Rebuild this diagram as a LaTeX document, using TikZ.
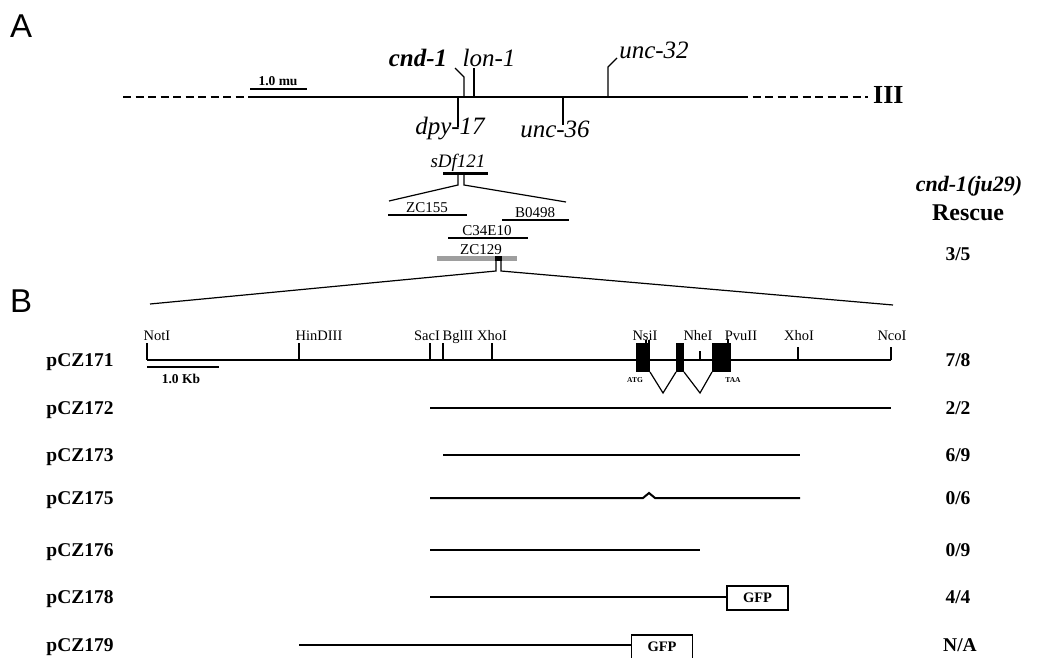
\documentclass[tikz,border=0pt]{standalone}
\usepackage{fontspec}
\setmainfont{Liberation Serif}
\newfontfamily\sansf{Liberation Sans}
\begin{document}
\begin{tikzpicture}[x=1pt,y=-1pt,
  every node/.style={inner sep=0pt, anchor=base},
  panel/.style={font=\sansf\fontsize{33}{35}\selectfont, anchor=base west},
  gene/.style={font=\fontsize{25}{28}\selectfont\itshape},
  bgene/.style={font=\fontsize{25}{28}\selectfont\bfseries\itshape},
  cosm/.style={font=\fontsize{15}{17}\selectfont},
  site/.style={font=\fontsize{14.5}{16}\selectfont},
  scalelbl/.style={font=\fontsize{13.5}{15}\selectfont\bfseries},
  tiny/.style={font=\fontsize{7.5}{8}\selectfont\bfseries},
  plab/.style={font=\fontsize{19.5}{21}\selectfont\bfseries},
  res/.style={font=\fontsize{19.5}{21}\selectfont\bfseries},
  chrom/.style={line width=1.3pt},
  dashchrom/.style={line width=1.3pt, dash pattern=on 8pt off 4.5pt},
  thin/.style={line width=1.2pt},
  construct/.style={line width=2pt},
  exon/.style={fill=black, draw=none},
  gfpbox/.style={draw, line width=1.3pt, fill=white, minimum width=61pt, minimum height=24pt, anchor=center, font=\fontsize{14.5}{16}\selectfont\bfseries}
]
\useasboundingbox (0,0) rectangle (1054,658);

% panel letters
\node[panel] (pA) at (10,38) {A};
\node[panel] (pB) at (10,312) {B};

% ---------- Panel A: chromosome III ----------
\coordinate (chL) at (123,97);
\coordinate (chA) at (250,97);
\coordinate (chB) at (740,97);
\coordinate (chR) at (868,97);
\draw[dashchrom] (chL) -- (chA);
\draw[chrom] (chA) -- (chB);
\draw[dashchrom] (chB) -- (chR);
\node[font=\fontsize{26}{28}\selectfont\bfseries, anchor=base west] (III) at (873,104) {III};

% scale bar
\coordinate (muL) at (250,89);
\coordinate (muR) at (307,89);
\draw[thin] (muL) -- (muR);
\node[scalelbl] (mu) at (278,86) {1.0 mu};

% markers
\coordinate (cndB) at (464,97);
\coordinate (cndM) at (464,77);
\coordinate (cndT) at (455,68);
\draw[thin] (cndB) -- (cndM) -- (cndT);
\coordinate (lonB) at (474,97);
\coordinate (lonT) at (474,68);
\draw[thin] (lonB) -- (lonT);
\coordinate (u32B) at (608,97);
\coordinate (u32M) at (608,67);
\coordinate (u32T) at (617,58);
\draw[thin] (u32B) -- (u32M) -- (u32T);
\coordinate (dpyB) at (458,97);
\coordinate (dpyT) at (458,127);
\draw[thin] (dpyB) -- (dpyT);
\coordinate (u36B) at (563,97);
\coordinate (u36T) at (563,125);
\draw[thin] (u36B) -- (u36T);

\node[bgene] (cnd) at (418,67) {cnd-1};
\node[gene] (lon) at (489,67) {lon-1};
\node[gene] (u32) at (654,59) {unc-32};
\node[gene] (dpy) at (450,135) {dpy-17};
\node[gene] (u36) at (555,138) {unc-36};

% deficiency and cosmids
\node[font=\fontsize{19}{21}\selectfont\itshape] (sdf) at (458,167) {sDf121};
\coordinate (sdfL) at (443,173);
\coordinate (sdfR) at (488,173);
\draw[line width=3pt] (sdfL) -- (sdfR);
\coordinate (s1) at (458,173);
\coordinate (s1b) at (458,185);
\coordinate (s2) at (464,173);
\coordinate (s2b) at (464,185);
\coordinate (fanL) at (389,201);
\coordinate (fanR) at (566,202);
\draw[thin] (s1) -- (s1b) -- (fanL);
\draw[thin] (s2) -- (s2b) -- (fanR);

\coordinate (zc155L) at (388,215);
\coordinate (zc155R) at (467,215);
\draw[thin] (zc155L) -- (zc155R);
\node[cosm] (zc155) at (427,212) {ZC155};
\coordinate (b0498L) at (502,220);
\coordinate (b0498R) at (569,220);
\draw[thin] (b0498L) -- (b0498R);
\node[cosm] (b0498) at (535,217) {B0498};
\coordinate (c34L) at (448,238);
\coordinate (c34R) at (528,238);
\draw[line width=1.6pt] (c34L) -- (c34R);
\node[cosm] (c34) at (487,235) {C34E10};
\node[cosm] (zc129) at (481,254) {ZC129};
\coordinate (zcL) at (437,258);
\coordinate (zcR) at (517,258);
\draw[line width=5pt, black!38] (zcL) -- (zcR);
\coordinate (zcgL) at (495,258);
\coordinate (zcgR) at (502,258);
\draw[line width=5pt] (zcgL) -- (zcgR);
\coordinate (z1) at (496,260);
\coordinate (z1b) at (496,271);
\coordinate (z2) at (501,260);
\coordinate (z2b) at (501,271);
\coordinate (bigL) at (150,304);
\coordinate (bigR) at (893,305);
\draw[thin] (z1) -- (z1b) -- (bigL);
\draw[thin] (z2) -- (z2b) -- (bigR);

% Rescue header
\node[font=\fontsize{22}{24}\selectfont\bfseries\itshape] (hdr1) at (969,191) {cnd-1(ju29)};
\node[font=\fontsize{24}{26}\selectfont\bfseries] (hdr2) at (968,220) {Rescue};
\node[res] (r0) at (958,260) {3/5};

% ---------- Panel B: restriction map ----------
\coordinate (mapL) at (147,360);
\coordinate (mapR) at (891,360);
\draw[construct] (mapL) -- (mapR);

\foreach \x/\t in {147/343,299/343,430/343,443/343,492/343,700/351,798/347,891/347}
  \draw[thin] (\x,\t) -- (\x,360);
\draw[thin] (646,340) -- (646,344);
\draw[thin] (649,340) -- (649,344);
\draw[thin] (728,339) -- (728,344);

\node[site] (notI) at (157,340) {NotI};
\node[site] (hind) at (319,340) {HinDIII};
\node[site] (sacI) at (427,340) {SacI};
\node[site] (bglII) at (458,340) {BglII};
\node[site] (xhoI) at (492,340) {XhoI};
\node[site] (nsiI) at (645,340) {NsiI};
\node[site] (nheI) at (698,340) {NheI};
\node[site] (pvuII) at (741,340) {PvuII};
\node[site] (xhoII) at (799,340) {XhoI};
\node[site] (ncoI) at (892,340) {NcoI};

% exons and introns
\fill[exon] (636,343) rectangle (650,372);
\fill[exon] (676,343) rectangle (684,372);
\fill[exon] (712,343) rectangle (731,372);
\coordinate (e1) at (650,372);
\coordinate (i1) at (663,393);
\coordinate (e2a) at (676,372);
\coordinate (e2b) at (684,372);
\coordinate (i2) at (700,393);
\coordinate (e3) at (712,372);
\draw[thin] (e1) -- (i1) -- (e2a);
\draw[thin] (e2b) -- (i2) -- (e3);
\node[tiny] (atg) at (635,382) {ATG};
\node[tiny] (taa) at (733,382) {TAA};

% kb scale
\coordinate (kbL) at (147,367);
\coordinate (kbR) at (219,367);
\draw[thin] (kbL) -- (kbR);
\node[scalelbl] (kb) at (181,383) {1.0 Kb};

% constructs
\node[plab] (p171) at (80,366) {pCZ171};
\node[res] (r171) at (958,366) {7/8};

\coordinate (c172L) at (430,408);
\coordinate (c172R) at (891,408);
\draw[construct] (c172L) -- (c172R);
\node[plab] (p172) at (80,414) {pCZ172};
\node[res] (r172) at (958,414) {2/2};

\coordinate (c173L) at (443,455);
\coordinate (c173R) at (800,455);
\draw[construct] (c173L) -- (c173R);
\node[plab] (p173) at (80,461) {pCZ173};
\node[res] (r173) at (958,461) {6/9};

\coordinate (c175L) at (430,498);
\coordinate (k1) at (643,498);
\coordinate (k2) at (649,493);
\coordinate (k3) at (655,498);
\coordinate (c175R) at (800,498);
\draw[construct] (c175L) -- (k1) -- (k2) -- (k3) -- (c175R);
\node[plab] (p175) at (80,504) {pCZ175};
\node[res] (r175) at (958,504) {0/6};

\coordinate (c176L) at (430,550);
\coordinate (c176R) at (700,550);
\draw[construct] (c176L) -- (c176R);
\node[plab] (p176) at (80,556) {pCZ176};
\node[res] (r176) at (958,556) {0/9};

\node[gfpbox] (gfp1) at (757.5,598) {GFP};
\coordinate (c178L) at (430,597);
\draw[construct] (c178L) -- (gfp1.west |- c178L);
\node[plab] (p178) at (80,603) {pCZ178};
\node[res] (r178) at (958,603) {4/4};

\node[gfpbox] (gfp2) at (662,647) {GFP};
\coordinate (c179L) at (299,645);
\draw[construct] (c179L) -- (gfp2.west |- c179L);
\node[plab] (p179) at (80,651) {pCZ179};
\node[res] (r179) at (960,651) {N/A};
\end{tikzpicture}
\end{document}
